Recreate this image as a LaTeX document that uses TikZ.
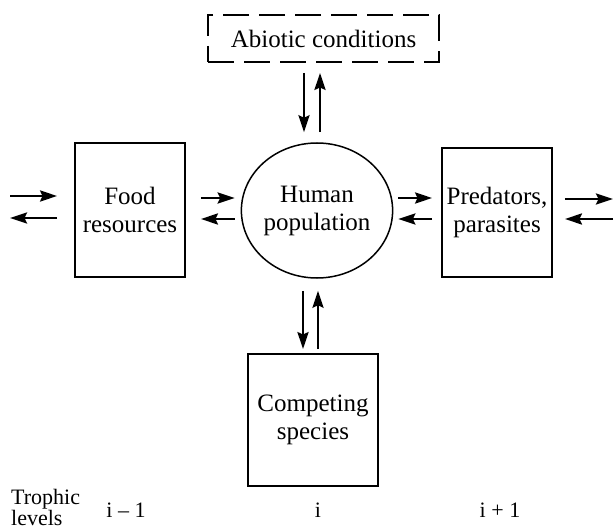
\documentclass[tikz,border=0pt]{standalone}
\usepackage{fontspec}
\setmainfont{Liberation Serif}
\usetikzlibrary{arrows.meta,calc,shapes.geometric}

\begin{document}
\begin{tikzpicture}[x=1pt,y=-1pt,
  box/.style={draw,line width=1.8pt,align=center,inner sep=0pt,
    font=\fontsize{25}{28}\selectfont},
  dashbox/.style={box,dash pattern=on 26pt off 10pt},
  blob/.style={box,ellipse,line width=1.5pt},
  arr/.style={line width=2.6pt,-{Stealth[length=17pt,width=11pt,inset=2.5pt]}},
  lbl/.style={font=\fontsize{22}{19}\selectfont,inner sep=0pt}]

\useasboundingbox (0,0) rectangle (615,529);

% compartments of the system
\node[dashbox,minimum width=231pt,minimum height=47pt] (abiotic) at (323.5,38.5) {Abiotic conditions};
\node[box,minimum width=110pt,minimum height=134pt] (food) at (130,210) {Food\\resources};
\node[blob,minimum width=118pt,minimum height=135pt] (human) at (317,210.5) {Human\\population};
\node[box,minimum width=110pt,minimum height=129pt] (pred) at (497,212.5) {Predators,\\parasites};
\node[box,minimum width=130pt,minimum height=132pt] (comp) at (313,420) {Competing\\species};

% open ends at the left and right margins
\coordinate (farL) at (10,0);
\coordinate (farR) at (613,0);

% exchanges with the lower trophic level
\draw[arr] (farL |- 0,196) -- ($(food.west |- 0,196)+(-17,0)$);
\draw[arr] ($(food.west |- 0,218)+(-17,0)$) -- (farL |- 0,218);

% food resources <-> human population
\draw[arr] ($(food.east |- 0,198)+(15,0)$) -- ($(human.west |- 0,198)+(-6,0)$);
\draw[arr] ($(human.west |- 0,219)+(-6,0)$) -- ($(food.east |- 0,219)+(15,0)$);

% human population <-> predators
\draw[arr] ($(human.east |- 0,198)+(5,0)$) -- ($(pred.west |- 0,198)+(-9,0)$);
\draw[arr] ($(pred.west |- 0,219)+(-9,0)$) -- ($(human.east |- 0,219)+(5,0)$);

% exchanges with the higher trophic level
\draw[arr] ($(pred.east |- 0,199)+(12,0)$) -- (farR |- 0,199);
\draw[arr] (farR |- 0,219) -- ($(pred.east |- 0,219)+(12,0)$);

% abiotic conditions <-> human population
\draw[arr] ($(abiotic.south -| 304,0)+(0,10)$) -- ($(human.north -| 304,0)+(0,-10)$);
\draw[arr] ($(human.north -| 320,0)+(0,-10)$) -- ($(abiotic.south -| 320,0)+(0,10)$);

% human population <-> competing species
\draw[arr] ($(human.south -| 303,0)+(0,12)$) -- ($(comp.north -| 303,0)+(0,-4)$);
\draw[arr] ($(comp.north -| 318,0)+(0,-4)$) -- ($(human.south -| 318,0)+(0,12)$);

% trophic level labels
\node[lbl,align=left,anchor=north west] (troph) at (11,489) {Trophic\\levels};
\node[lbl] (lvlA) at (126,510) {i – 1};
\node[lbl] (lvlB) at (318,510) {i};
\node[lbl] (lvlC) at (500,510) {i + 1};
\end{tikzpicture}
\end{document}
